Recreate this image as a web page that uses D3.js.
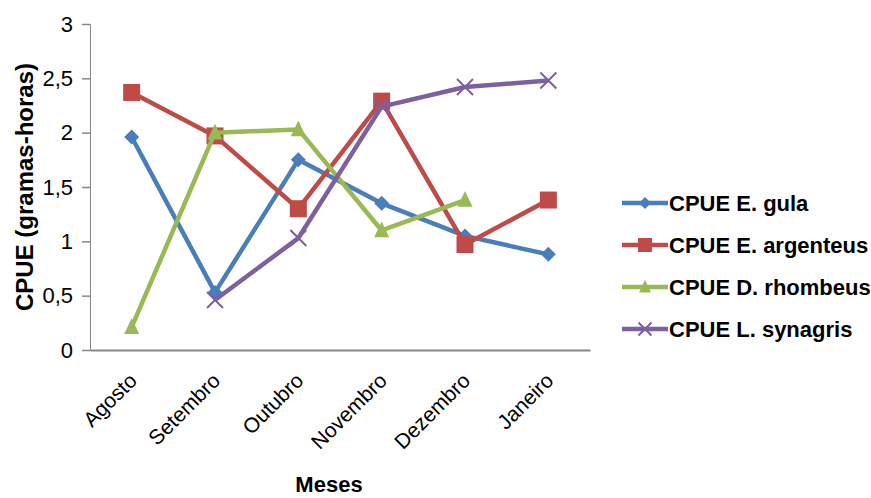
<!DOCTYPE html>
<html>
<head>
<meta charset="utf-8">
<script src="https://cdn.jsdelivr.net/npm/d3@7"></script>
<style>
  body { margin: 0; background: #fff; }
  text { font-family: "Liberation Sans", Arial, sans-serif; }
</style>
</head>
<body>
<div id="chart"></div>
<script>
const months = ['Agosto', 'Setembro', 'Outubro', 'Novembro', 'Dezembro', 'Janeiro'];
const yTicks = [0, 0.5, 1, 1.5, 2, 2.5, 3];

const gula = [1.96, 0.53, 1.75, 1.35, 1.05, 0.88];
const argenteus = [2.37, 1.97, 1.30, 2.29, 0.97, 1.38];
const rhombeus = [0.21, 2.00, 2.03, 1.10, 1.38, null];
const synagris = [null, 0.46, 1.03, 2.24, 2.42, 2.48];

const seriesNames = ['CPUE E. gula', 'CPUE E. argenteus', 'CPUE D. rhombeus', 'CPUE L. synagris'];

const series = [
  { name: seriesNames[0], values: gula, color: '#4A7EBB', marker: 'diamond' },
  { name: seriesNames[1], values: argenteus, color: '#BE4B48', marker: 'square' },
  { name: seriesNames[2], values: rhombeus, color: '#98B954', marker: 'triangle' },
  { name: seriesNames[3], values: synagris, color: '#7D60A0', marker: 'cross' },
];

const width = 871;
const height = 498;
const plot = { left: 90, right: 590, top: 24, bottom: 350 };

const x = d3.scalePoint()
  .domain(months)
  .range([plot.left, plot.right])
  .padding(0.5);

const y = d3.scaleLinear()
  .domain([0, 3])
  .range([plot.bottom, plot.top]);

const svg = d3.select('#chart')
  .append('svg')
  .attr('width', width)
  .attr('height', height);

// y axis
const yAxis = svg.append('g')
  .attr('transform', `translate(${plot.left},0)`)
  .call(d3.axisLeft(y).tickValues(yTicks).tickSize(8).tickPadding(9)
    .tickFormat(d => String(d).replace('.', ',')));
yAxis.select('.domain').attr('stroke', '#868686').attr('stroke-width', 1);
yAxis.selectAll('.tick line').attr('stroke', '#868686').attr('stroke-width', 1.5);
yAxis.selectAll('.tick text')
  .attr('fill', '#000')
  .style('font-size', '22px');

// x axis
const xAxis = svg.append('g')
  .attr('transform', `translate(0,${plot.bottom})`)
  .call(d3.axisBottom(x).tickSize(0).tickSizeOuter(0));
xAxis.select('.domain').attr('stroke', '#868686').attr('stroke-width', 2);
xAxis.selectAll('.tick text')
  .attr('fill', '#000')
  .style('font-size', '21px')
  .attr('text-anchor', 'end')
  .attr('dy', 0)
  .attr('y', 0)
  .attr('transform', 'translate(6,32) rotate(-45)');

// axis titles
svg.append('text')
  .attr('transform', `translate(33,${(plot.top + plot.bottom) / 2}) rotate(-90)`)
  .attr('text-anchor', 'middle')
  .style('font-size', '24px')
  .style('font-weight', 'bold')
  .text('CPUE (gramas-horas)');

svg.append('text')
  .attr('x', 329)
  .attr('y', 492)
  .attr('text-anchor', 'middle')
  .style('font-size', '22px')
  .style('font-weight', 'bold')
  .text('Meses');

// marker shapes
function drawMarker(sel, type, color, s) {
  if (type === 'diamond') {
    sel.append('path')
      .attr('d', `M0,${-s / 2}L${s / 2},0L0,${s / 2}L${-s / 2},0Z`)
      .attr('fill', color);
  } else if (type === 'square') {
    sel.append('rect')
      .attr('x', -s / 2).attr('y', -s / 2)
      .attr('width', s).attr('height', s)
      .attr('fill', color);
  } else if (type === 'triangle') {
    sel.append('path')
      .attr('d', `M0,${-s * 0.6}L${s / 2},${s * 0.45}L${-s / 2},${s * 0.45}Z`)
      .attr('fill', color);
  } else {
    const h = s / 2;
    sel.append('path')
      .attr('d', `M${-h},${-h}L${h},${h}M${-h},${h}L${h},${-h}`)
      .attr('stroke', color)
      .attr('stroke-width', 2);
  }
}

const markerSize = { diamond: 15, square: 17, triangle: 15, cross: 16 };

const line = d3.line()
  .defined(d => d.v !== null)
  .x(d => x(d.m))
  .y(d => y(d.v));

series.forEach(s => {
  const pts = months.map((m, i) => ({ m, v: s.values[i] }));
  const g = svg.append('g');

  g.append('path')
    .datum(pts)
    .attr('fill', 'none')
    .attr('stroke', s.color)
    .attr('stroke-width', 4.5)
    .attr('stroke-linejoin', 'round')
    .attr('d', line);

  pts.filter(d => d.v !== null).forEach(d => {
    const mk = g.append('g').attr('transform', `translate(${x(d.m)},${y(d.v)})`);
    drawMarker(mk, s.marker, s.color, markerSize[s.marker]);
  });
});

// legend
const legend = svg.append('g').attr('transform', 'translate(622,203)');
series.forEach((s, i) => {
  const row = legend.append('g').attr('transform', `translate(0,${i * 42})`);
  row.append('line')
    .attr('x1', 0).attr('x2', 46)
    .attr('stroke', s.color)
    .attr('stroke-width', 4.5);
  const mk = row.append('g').attr('transform', 'translate(23,0)');
  drawMarker(mk, s.marker, s.color, markerSize[s.marker] - 3);
  row.append('text')
    .attr('x', 47)
    .attr('dy', '0.36em')
    .style('font-size', '22px')
    .style('font-weight', 'bold')
    .text(s.name);
});
</script>
</body>
</html>
